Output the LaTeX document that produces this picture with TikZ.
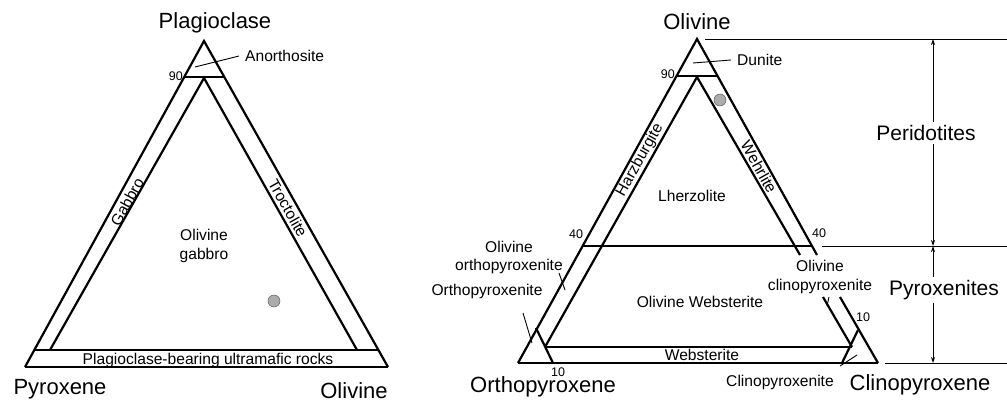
\documentclass[tikz,border=0pt]{standalone}
\usepackage{fontspec}
\setmainfont{Liberation Sans}
\usetikzlibrary{arrows.meta,calc}
\begin{document}
\begin{tikzpicture}[x=1pt,y=-1pt,
  thk/.style={line width=2.2pt, line join=miter},
  med/.style={line width=1.3pt},
  thin/.style={line width=0.9pt},
  lbl/.style={font=\fontsize{15.6}{18.5}\selectfont, inner sep=0pt, align=center},
  ttl/.style={font=\fontsize{22}{24}\selectfont, inner sep=0pt, anchor=base},
  num/.style={font=\fontsize{12.5}{13}\selectfont, inner sep=0pt},
  dotmark/.style={circle, fill=gray!65, draw=gray!70!black, line width=0.5pt, minimum size=12pt, inner sep=0pt},
  dim/.style={line width=0.8pt},
  arr/.style={dim, -{Stealth[length=6pt,width=4pt]}}
]
\useasboundingbox (0,0) rectangle (1007,404);

% ---------------- left triangle ----------------
\coordinate (LA) at (204,41);
\coordinate (LL) at (25,367);
\coordinate (LR) at (388,367);
\coordinate (L90a) at (184,77);
\coordinate (L90b) at (224,77);
\coordinate (LI) at (204,78);
\coordinate (LBa) at (34,350);
\coordinate (LBb) at (378,350);
\coordinate (LIa) at (50,350);
\coordinate (LIb) at (357,350);

\draw[thk] (LL) -- (LA) -- (LR);
\draw[med] (LL) -- (LR);
\draw[thk] (L90a) -- (L90b);
\draw[thk] (LBa) -- (LBb);
\draw[thk] (LIa) -- (LI) -- (LIb);

\node[ttl] (plag) at (215,29) {Plagioclase};
\node[ttl] (pyx) at (60,394) {Pyroxene};
\node[ttl] (olL) at (354,398) {Olivine};

\node[lbl, anchor=west] (anor) at (245,56) {Anorthosite};
\coordinate (anoP) at (195,67);
\draw[thin] (anoP) -- ([xshift=-6pt]anor.west);
\node[num, anchor=east] (n90L) at (183,76) {90};

\node[lbl, rotate=61] (gab) at (127,202) {Gabbro};
\node[lbl, rotate=-60.6] (troc) at (288,208) {Troctolite};
\node[lbl] (olgab) at (204,246) {Olivine\\gabbro};
\node[dotmark] (dotL) at (274,301) {};
\node[lbl] (pbur) at (208,360) {Plagioclase-bearing ultramafic rocks};

% ---------------- right triangle ----------------
\coordinate (RA) at (697,39);
\coordinate (RL) at (518,363);
\coordinate (RR) at (878,363);
\coordinate (Rg1) at (817,255);
\coordinate (Rg2) at (840,297);
\coordinate (R90a) at (677,76);
\coordinate (R90b) at (718,76);
\coordinate (RI) at (697,77);
\coordinate (RIL) at (545,347);
\coordinate (RIg1) at (800,255);
\coordinate (RIg2) at (823,297);
\coordinate (RIR) at (852,347);
\coordinate (R40a) at (582,246);
\coordinate (R40b) at (812,246);
\coordinate (T1a) at (536,328);
\coordinate (T1b) at (553,363);
\coordinate (T2a) at (858,330);
\coordinate (T2b) at (842,363);

\draw[thk] (RL) -- (RA) -- (Rg1);
\draw[thk] (Rg2) -- (RR);
\draw[med] (RL) -- (RR);
\draw[thk] (R90a) -- (R90b);
\draw[thk] (RIL) -- (RI) -- (RIg1);
\draw[thk] (RIg2) -- (RIR);
\draw[thk] (R40a) -- (R40b);
\draw[med] (RIL) -- (RIR);
\draw[thk] (T1a) -- (T1b);
\draw[thk] (T2a) -- (T2b);

\node[ttl] (olR) at (697,30) {Olivine};
\node[ttl] (opx) at (543,392) {Orthopyroxene};
\node[ttl] (cpx) at (920,390) {Clinopyroxene};

\node[lbl, anchor=west] (dun) at (737,60) {Dunite};
\coordinate (dunP) at (693,63);
\draw[thin] (dunP) -- ([xshift=-6pt]dun.west);
\node[num, anchor=east] (n90R) at (675,74) {90};
\node[dotmark] (dotR) at (720,100) {};

\node[lbl, rotate=61] (harz) at (640,160) {Harzburgite};
\node[lbl, rotate=-60.6] (wehr) at (759,167) {Wehrlite};
\node[lbl] (lherz) at (692,196) {Lherzolite};

\node[num] (n40L) at (576,234) {40};
\node[num] (n40R) at (819,233) {40};
\node[num] (n10L) at (558,372) {10};
\node[num] (n10R) at (863,317) {10};

\node[lbl] (oopx) at (509,257.5) {Olivine\\orthopyroxenite};
\coordinate (oopxA) at (559,273);
\coordinate (oopxB) at (565,290);
\draw[thin] (oopxA) -- (oopxB);

\node[lbl] (opxite) at (487,291) {Orthopyroxenite};
\coordinate (opxA) at (523,313);
\coordinate (opxB) at (532,343);
\draw[thin] (opxA) -- (opxB);

\node[lbl] (olweb) at (700,302) {Olivine Websterite};
\node[lbl] (web) at (702,355) {Websterite};

\node[lbl] (ocpx) at (820,277) {Olivine\\clinopyroxenite};
\coordinate (ocpxA) at (829,297);
\coordinate (ocpxB) at (827,306);
\draw[thin] (ocpxA) -- (ocpxB);

\node[lbl] (cpxite) at (780,382) {Clinopyroxenite};
\coordinate (cpxA) at (840,366);
\coordinate (cpxB) at (857,355);
\draw[thin] (cpxA) -- (cpxB);

% ---------------- dimension lines ----------------
\coordinate (hT0) at (705,39);   \coordinate (hT1) at (1007,39);
\coordinate (hM0) at (822,246);  \coordinate (hM1) at (1007,246);
\coordinate (hB0) at (885,363);  \coordinate (hB1) at (1007,363);
\draw[dim] (hT0) -- (hT1);
\draw[dim] (hM0) -- (hM1);
\draw[dim] (hB0) -- (hB1);

\coordinate (pT) at (933,39);
\coordinate (pM) at (933,246);
\coordinate (pB) at (933,363);
\node[lbl, inner sep=3pt, font=\fontsize{21}{23}\selectfont] (per) at (926,133) {Peridotites};
\node[lbl, inner sep=3pt, font=\fontsize{21}{23}\selectfont] (pyr) at (944,290) {Pyroxenites};
\draw[arr] (per.north -| pT) -- (pT);
\draw[arr] (per.south -| pT) -- (pM);
\draw[arr] (pyr.north -| pT) -- (pM);
\draw[arr] (pyr.south -| pT) -- (pB);
\end{tikzpicture}
\end{document}
